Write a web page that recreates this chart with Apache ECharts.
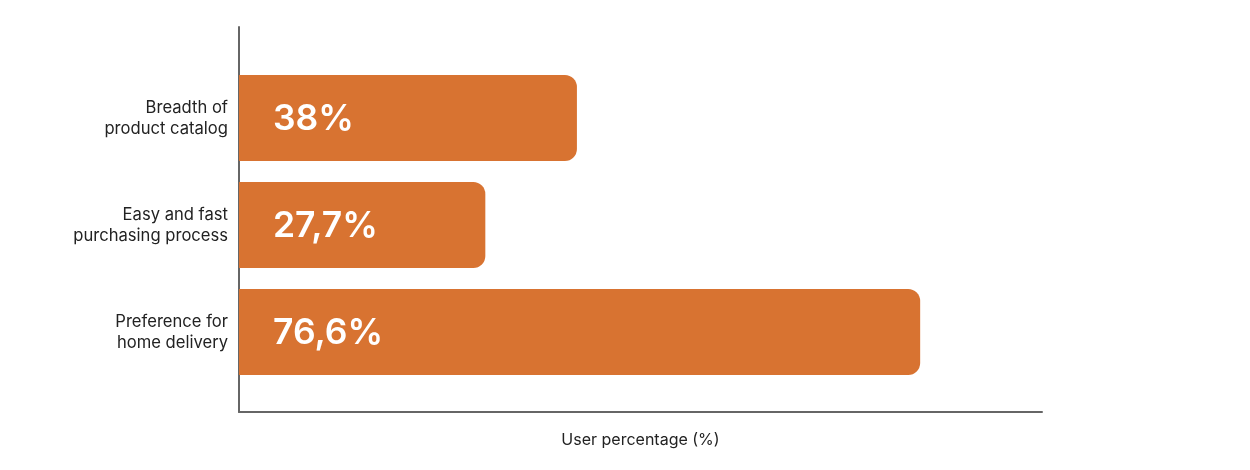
<!DOCTYPE html>
<html>
<head>
<meta charset="utf-8">
<script src="https://cdn.jsdelivr.net/npm/echarts@6/dist/echarts.min.js"></script>
<style>
html,body{margin:0;padding:0;background:#fff;}
#chart{width:1250px;height:470px;}
</style>
</head>
<body>
<div id="chart"></div>
<script>
const categories = ["Breadth of\nproduct catalog", "Easy and fast\npurchasing process", "Preference for\nhome delivery"];
const values = [38, 27.7, 76.6];
const axisTitle = "User percentage (%)";

const chart = echarts.init(document.getElementById('chart'), null, {renderer: 'canvas'});
const font = "Inter, 'Liberation Sans', Arial, sans-serif";
const option = {
  backgroundColor: '#ffffff',
  animation: false,
  grid: [
    {left: 239, right: 208, top: 27, bottom: 58},
    {left: 239, right: 208, top: 64.5, bottom: 84.5}
  ],
  xAxis: [
    {
      gridIndex: 0, type: 'value', min: 0, max: 1,
      axisLine: {show: true, onZero: false, lineStyle: {color: '#666666', width: 2}},
      axisTick: {show: false}, axisLabel: {show: false}, splitLine: {show: false},
      name: axisTitle, nameLocation: 'middle', nameGap: 20,
      nameTextStyle: {color: '#222222', fontSize: 16, fontFamily: font}
    },
    {
      gridIndex: 1, type: 'value', min: 0, max: 90.3,
      axisLine: {show: false}, axisTick: {show: false}, axisLabel: {show: false}, splitLine: {show: false}
    }
  ],
  yAxis: [
    {
      gridIndex: 0, type: 'value', min: 0, max: 1,
      axisLine: {show: true, onZero: false, lineStyle: {color: '#666666', width: 2}},
      axisTick: {show: false}, axisLabel: {show: false}, splitLine: {show: false}
    },
    {
      gridIndex: 1, type: 'category', data: categories, inverse: true,
      axisLine: {show: false}, axisTick: {show: false}, splitLine: {show: false},
      axisLabel: {margin: 11, color: '#222222', fontSize: 16.6, lineHeight: 21, fontFamily: font, align: 'right'}
    }
  ],
  series: [{
    type: 'bar',
    xAxisIndex: 1, yAxisIndex: 1,
    data: values,
    barWidth: 86,
    itemStyle: {color: '#D87331', borderRadius: [0, 12, 12, 0]},
    label: {
      show: true, position: 'insideLeft', distance: 34, offset: [0, 1],
      formatter: p => String(p.value).replace('.', ',') + '%',
      color: '#ffffff', fontSize: 35.5, fontWeight: 600, fontFamily: font
    }
  }]
};
chart.setOption(option);
</script>
</body>
</html>
